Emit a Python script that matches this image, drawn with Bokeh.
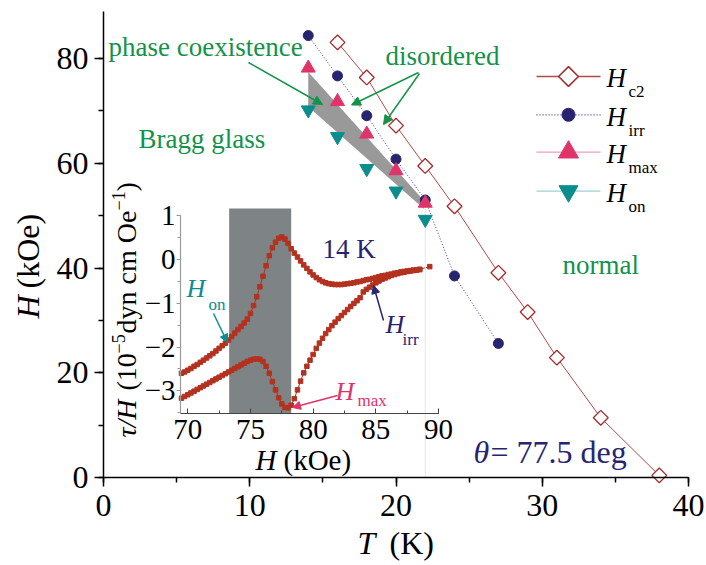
import math
from bokeh.plotting import figure
from bokeh.models import Range1d, LinearAxis, SingleIntervalTicker, Label, Arrow, NormalHead
from bokeh.embed import file_html
from bokeh.resources import INLINE

# ---------------- data ----------------
T_c2 = [16, 18, 20, 22, 24, 27, 29, 31, 34, 38]
H_c2 = [83.1, 76.4, 67.2, 59.5, 51.8, 39.1, 31.6, 22.9, 11.4, 0.4]
T_irr = [14, 16, 18, 20, 22, 24, 27]
H_irr = [84.4, 76.7, 69.1, 60.8, 53.0, 38.5, 25.6]
T_max = [14, 16, 18, 20, 22]
H_max = [78.2, 71.8, 65.6, 58.6, 52.4]
T_on = [14, 16, 18, 20, 22]
H_on = [70.2, 65.1, 59.0, 54.7, 49.3]
band_T = [14.0, 21.9]
band_hi = [77.45, 52.9]
band_lo = [70.8, 51.35]
guide_T = [22, 22]
guide_H = [0, 51.3]

# inset: torque curve at 14 K
shade_H = [73.3, 78.25]
H_up = [69.50, 69.75, 70.00, 70.25, 70.50, 70.75, 71.00, 71.25, 71.50, 71.75,
        72.00, 72.25, 72.50, 72.75, 73.00, 73.25, 73.50, 73.75, 74.00, 74.25,
        74.50, 74.75, 75.00, 75.25, 75.50, 75.75, 76.00, 76.25, 76.50, 76.75,
        77.00, 77.25, 77.50, 77.75, 78.00, 78.25, 78.50, 78.75, 79.00, 79.25,
        79.50, 79.75, 80.00, 80.25, 80.50, 80.75, 81.00, 81.25, 81.50, 81.75,
        82.00, 82.25, 82.50, 82.75, 83.00, 83.25, 83.50, 83.75, 84.00, 84.25,
        84.50, 84.75, 85.00, 85.25, 85.50, 85.75, 86.00, 86.25, 86.50, 86.75,
        87.00, 87.25, 87.50, 87.75, 88.00, 88.25, 88.50, 89.30]
tau_up = [-2.60, -2.57, -2.53, -2.49, -2.44, -2.40, -2.35, -2.30, -2.25, -2.20,
          -2.15, -2.09, -2.03, -1.97, -1.91, -1.84, -1.76, -1.68, -1.60, -1.53,
          -1.45, -1.36, -1.23, -1.05, -0.85, -0.62, -0.38, -0.14, 0.09, 0.27,
          0.40, 0.49, 0.52, 0.47, 0.37, 0.25, 0.15, 0.06, -0.03, -0.12,
          -0.20, -0.28, -0.35, -0.41, -0.46, -0.50, -0.53, -0.55, -0.56, -0.57,
          -0.57, -0.57, -0.56, -0.55, -0.54, -0.53, -0.51, -0.50, -0.48, -0.46,
          -0.45, -0.43, -0.41, -0.39, -0.37, -0.36, -0.34, -0.33, -0.31, -0.30,
          -0.28, -0.27, -0.26, -0.25, -0.24, -0.23, -0.22, -0.16]
H_dn = [69.50, 69.75, 70.00, 70.25, 70.50, 70.75, 71.00, 71.25, 71.50, 71.75,
        72.00, 72.25, 72.50, 72.75, 73.00, 73.25, 73.50, 73.75, 74.00, 74.25,
        74.50, 74.75, 75.00, 75.25, 75.50, 75.75, 76.00, 76.25, 76.50, 76.75,
        77.00, 77.25, 77.50, 77.75, 78.00, 78.25, 78.50, 78.75, 79.00, 79.25,
        79.50, 79.75, 80.00, 80.25, 80.50, 80.75, 81.00, 81.25, 81.50, 81.75,
        82.00, 82.25, 82.50, 82.75, 83.00, 83.25, 83.50, 83.75, 84.00, 84.25,
        84.50, 84.75, 85.00, 85.25, 85.50, 85.75, 86.00, 86.25, 86.50, 86.75,
        87.00, 87.25, 87.50, 87.75, 88.00, 88.25, 88.50]
tau_dn = [-3.17, -3.13, -3.09, -3.05, -3.01, -2.97, -2.93, -2.89, -2.85, -2.81,
          -2.77, -2.73, -2.69, -2.65, -2.61, -2.57, -2.53, -2.49, -2.45, -2.41,
          -2.37, -2.33, -2.30, -2.28, -2.27, -2.28, -2.33, -2.44, -2.60, -2.79,
          -2.98, -3.16, -3.30, -3.38, -3.39, -3.33, -3.18, -2.98, -2.78, -2.59,
          -2.44, -2.30, -2.17, -2.03, -1.91, -1.80, -1.69, -1.60, -1.51, -1.43,
          -1.35, -1.28, -1.21, -1.14, -1.07, -1.00, -0.94, -0.87, -0.74, -0.68,
          -0.63, -0.58, -0.53, -0.49, -0.45, -0.42, -0.39, -0.36, -0.34, -0.32,
          -0.30, -0.29, -0.27, -0.26, -0.25, -0.24, -0.23]

# ---------------- style ----------------
SERIF = "Liberation Serif"
GREEN = "#13924a"
NAVY = "#28246f"
CRIMSON = "#e0336a"
TEAL = "#0b8d8d"
BRICK = "#b3321f"
C2 = "#a52a2a"

W, HGT = 706, 565
# pixel positions of the main axes box
FL, FR, FT, FB = 103, 688, 11, 477
X0, X1, Y0, Y1 = 0, 40, 0, 89
sx = (FR - FL) / (X1 - X0)
sy = (FB - FT) / (Y1 - Y0)
def mx(px):
    return X0 + (px - FL) / sx
def my(py):
    return Y0 + (FB - py) / sy

# the frame fills the whole canvas; axes are drawn at fixed locations
p = figure(width=W, height=HGT, x_range=Range1d(mx(0), mx(W)), y_range=Range1d(my(HGT), my(0)),
           output_backend="svg", toolbar_location=None,
           x_axis_location=None, y_axis_location=None,
           min_border_left=0, min_border_right=0, min_border_top=0, min_border_bottom=0)
p.outline_line_color = None
p.xgrid.visible = False
p.ygrid.visible = False

# inset ranges mapped into a sub-box of the canvas
IL, IR, IT, IB = 180, 438, 208, 413
IX0, IX1, IY0, IY1 = 69.42, 90.0, -3.52, 1.17
isx = (IR - IL) / (IX1 - IX0)
isy = (IB - IT) / (IY1 - IY0)
p.extra_x_ranges = {"ix": Range1d(IX0 - IL / isx, IX0 + (W - IL) / isx)}
p.extra_y_ranges = {"iy": Range1d(IY0 - (HGT - IB) / isy, IY0 + IB / isy)}

# main axes
xa = LinearAxis(fixed_location=Y0, bounds=(X0, X1),
                ticker=SingleIntervalTicker(interval=10, num_minor_ticks=2))
ya = LinearAxis(fixed_location=X0, bounds=(Y0, Y1),
                ticker=SingleIntervalTicker(interval=20, num_minor_ticks=2))
for ax in (xa, ya):
    ax.axis_line_width = 1.5
    ax.axis_line_color = "black"
    ax.major_tick_line_width = 1.5
    ax.minor_tick_line_width = 1.5
    ax.major_tick_line_color = "black"
    ax.minor_tick_line_color = "black"
    ax.major_tick_out = 9
    ax.major_tick_in = 0
    ax.minor_tick_out = 5
    ax.minor_tick_in = 0
    ax.major_label_text_font = SERIF
    ax.major_label_text_font_size = "32px"
    ax.major_label_text_color = "black"
xa.major_label_standoff = 8
ya.major_label_standoff = 6
p.add_layout(xa, "below")
p.add_layout(ya, "left")

# inset axes
iax = LinearAxis(x_range_name="ix", y_range_name="iy", fixed_location=IY0,
                 bounds=(IX0, IX1), ticker=SingleIntervalTicker(interval=5, num_minor_ticks=2))
iay = LinearAxis(x_range_name="ix", y_range_name="iy", fixed_location=IX0,
                 bounds=(IY0, 1.0), ticker=SingleIntervalTicker(interval=1, num_minor_ticks=2))
iax.axis_line_color = "#444444"
iax.major_tick_line_color = "#444444"
iax.minor_tick_line_color = "#444444"
iax.major_tick_in = 5
iax.major_tick_out = 0
iax.minor_tick_in = 3
iax.minor_tick_out = 0
iax.major_label_standoff = 6
iay.axis_line_color = "#9a9a9a"
iay.major_tick_line_color = "#9a9a9a"
iay.minor_tick_line_color = "#9a9a9a"
iay.major_tick_out = 4
iay.major_tick_in = 0
iay.minor_tick_out = 3
iay.minor_tick_in = 0
iay.major_label_standoff = 1
for ax in (iax, iay):
    ax.major_label_text_font = SERIF
    ax.major_label_text_font_size = "29px"
    ax.major_label_text_color = "black"
    ax.axis_line_width = 1.2
p.add_layout(iax, "below")
p.add_layout(iay, "left")

# ---------------- inset glyphs ----------------
p.quad(left=[shade_H[0]], right=[shade_H[1]], bottom=[IY0], top=[IY1],
       x_range_name="ix", y_range_name="iy", fill_color="#7e8486", line_color=None)
p.line(H_dn, tau_dn, x_range_name="ix", y_range_name="iy", color=BRICK, line_width=1)
p.line(H_up, tau_up, x_range_name="ix", y_range_name="iy", color=BRICK, line_width=1)
p.scatter(H_dn, tau_dn, x_range_name="ix", y_range_name="iy", marker="square",
          size=4.5, fill_color=BRICK, line_color=BRICK)
p.scatter(H_up, tau_up, x_range_name="ix", y_range_name="iy", marker="square",
          size=4.5, fill_color=BRICK, line_color=BRICK)

# ---------------- main glyphs ----------------
p.line(guide_T, guide_H, color="#e6e6e6", line_width=1)
p.varea(x=band_T, y1=band_lo, y2=band_hi, fill_color="#999999")
p.line(T_c2, H_c2, color="#b24848", line_width=1)
p.line(T_irr, H_irr, color="#3b3aa6", line_width=1, line_dash="1 2")
p.scatter(T_c2, H_c2, marker="square", angle=math.pi / 4, size=10.5,
          fill_color="white", line_color=C2, line_width=1.3)
p.scatter(T_on, H_on, marker="inverted_triangle", size=14, fill_color=TEAL, line_color=TEAL)
p.scatter(T_irr, H_irr, marker="circle", size=10, fill_color=NAVY, line_color=NAVY)
p.scatter(T_max, H_max, marker="triangle", size=14, fill_color=CRIMSON, line_color=CRIMSON)

# ---------------- legend (manual) ----------------
leg_rows = [76, 114.3, 151.7, 190.7]
leg_line = [("#b24848", "solid"), ("#3b3aa6", "1 2"), ("#eba0b5", "solid"), ("#9fd0d0", "solid")]
leg_sub = ["c2", "irr", "max", "on"]
for (lc, ld), ry in zip(leg_line, leg_rows):
    p.segment(x0=[mx(536)], y0=[my(ry)], x1=[mx(600)], y1=[my(ry)], line_color=lc,
              line_width=1.3, line_dash=ld)
p.scatter([mx(568)], [my(leg_rows[0])], marker="square", angle=math.pi / 4, size=14,
          fill_color="white", line_color=C2, line_width=1.5)
p.scatter([mx(568)], [my(leg_rows[1])], marker="circle", size=13, fill_color=NAVY, line_color=NAVY)
p.scatter([mx(568)], [my(leg_rows[2])], marker="triangle", size=20, fill_color=CRIMSON, line_color=CRIMSON)
p.scatter([mx(568)], [my(leg_rows[3])], marker="inverted_triangle", size=19, fill_color=TEAL, line_color=TEAL)

MID = 0.3375  # distance (in em) from the alphabetic baseline up to the text middle

def lab(px, py, text, color, size, style="normal", angle=0.0):
    # (px, py): pixel position of the start of the text on its baseline
    if angle == 0.0:
        ax_, ay_ = px, py - MID * size
    else:
        ax_, ay_ = px - MID * size, py
    p.add_layout(Label(x=mx(ax_), y=my(ay_), text=text, text_font=SERIF, text_font_style=style,
                       text_font_size=f"{size}px", text_color=color, text_align="left",
                       text_baseline="middle", angle=angle))

for s, ry in zip(leg_sub, leg_rows):
    lab(606, ry + 11, "H", "black", 27, style="italic")
    lab(628, ry + 21, s, "black", 17)

# ---------------- annotations ----------------
lab(108, 56, "phase coexistence", GREEN, 27)
lab(385, 65, "disordered", GREEN, 27)
lab(138, 148, "Bragg glass", GREEN, 27)
lab(562, 274, "normal", GREEN, 27)
lab(473, 462, "θ", NAVY, 32, style="italic")
lab(490, 462, "= 77.5 deg", NAVY, 32)
lab(322, 258, "14 K", NAVY, 27)
lab(186, 297, "H", TEAL, 26, style="italic")
lab(208, 310, "on", TEAL, 17)
lab(385, 333, "H", NAVY, 26, style="italic")
lab(402, 345, "irr", NAVY, 17)
lab(335, 400, "H", CRIMSON, 26, style="italic")
lab(357, 406, "max", CRIMSON, 17)

def arrow(x0, y0, x1, y1, color, size=9):
    p.add_layout(Arrow(end=NormalHead(size=size, fill_color=color, line_color=color),
                       x_start=mx(x0), y_start=my(y0), x_end=mx(x1), y_end=my(y1),
                       line_color=color, line_width=1.5))

arrow(248, 62, 322, 104, GREEN)
arrow(418, 72, 351, 104.5, GREEN)
arrow(419, 73, 383, 124, GREEN)
arrow(213, 313, 227, 342, TEAL, 8)
arrow(383, 320, 373, 285, NAVY, 8)
arrow(337, 395, 292, 407, CRIMSON, 8)

# axis titles
lab(357, 553, "T", "black", 32, style="italic")
lab(389, 553, "(K)", "black", 32)
lab(255, 469, "H", "black", 29, style="italic")
lab(283, 469, "(kOe)", "black", 29)
R = math.pi / 2
lab(38, 318, "H", "black", 32, style="italic", angle=R)
lab(38, 288, "(kOe)", "black", 32, angle=R)
lab(135, 437, "τ/H", "black", 28, style="italic", angle=R)
lab(135, 390, "(10", "black", 28, angle=R)
lab(124, 353, "−5", "black", 18, angle=R)
lab(135, 333, "dyn cm Oe", "black", 28, angle=R)
lab(124, 210, "−1", "black", 18, angle=R)
lab(135, 191, ")", "black", 28, angle=R)

open("out.html", "w").write(file_html(p, INLINE))
